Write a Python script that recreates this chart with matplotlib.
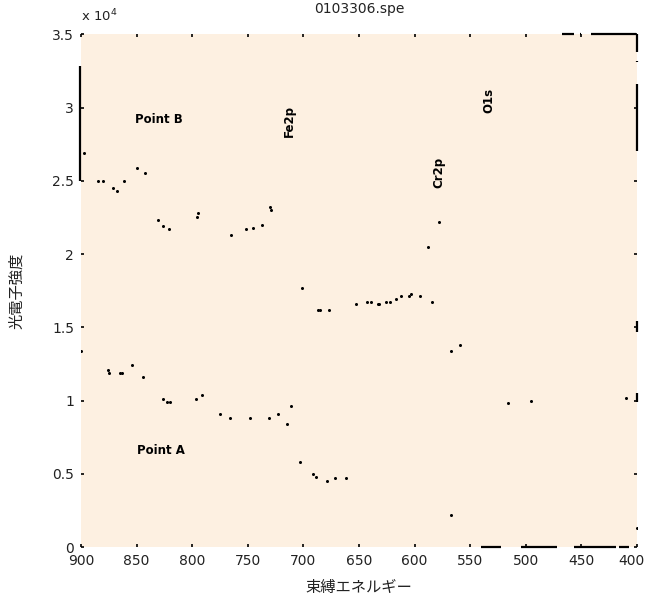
import numpy as np
import matplotlib
matplotlib.use("Agg")
import matplotlib.pyplot as plt
import matplotlib.transforms as mtransforms

plt.rcParams['font.family'] = ['DejaVu Sans', 'Noto Sans CJK JP']

# Point B (upper spectrum), binding energy / counts (x 1e4)
eb = [897, 885, 880, 871, 868, 861, 850, 842, 831, 826, 821, 796, 795, 765, 752,
      745, 737, 730, 729, 701, 687, 685, 677, 653, 643, 639, 633, 632, 626, 622,
      617, 612, 605, 603, 595, 588, 584, 578]
ib = [2.69, 2.50, 2.50, 2.45, 2.43, 2.50, 2.59, 2.55, 2.23, 2.19, 2.17, 2.25, 2.28,
      2.13, 2.17, 2.18, 2.20, 2.32, 2.30, 1.77, 1.62, 1.62, 1.62, 1.66, 1.67, 1.67,
      1.66, 1.66, 1.67, 1.67, 1.69, 1.71, 1.71, 1.73, 1.71, 2.05, 1.67, 2.22]

# Point A (lower spectrum)
ea = [900, 876, 875, 865, 863, 854, 844, 826, 823, 820, 797, 791, 775, 766, 748,
      731, 723, 715, 711, 703, 691, 689, 679, 672, 662, 567, 559, 567, 516, 495,
      410, 400]
ia = [1.34, 1.21, 1.19, 1.19, 1.19, 1.24, 1.16, 1.01, 0.99, 0.99, 1.01, 1.04, 0.91,
      0.88, 0.88, 0.88, 0.91, 0.84, 0.96, 0.58, 0.50, 0.48, 0.45, 0.47, 0.47, 1.34,
      1.38, 0.22, 0.98, 1.00, 1.02, 0.13]

# parts of the traces running along the frame (clipped)
bottom_segs = [(540, 522), (504, 472), (457, 419), (416, 407)]
top_segs = [(467, 457), (451, 450), (441, 401)]
right_segs = [(3.50, 3.38), (3.32, 3.31), (3.16, 2.70), (1.54, 1.47), (1.05, 0.99)]
left_segs = [(3.28, 2.50)]

labels = ['Point B', 'Point A']
label_pos = [(830, 2.92), (828, 0.66)]
peaks = ['Fe2p', 'Cr2p', 'O1s']
peak_pos = [(713, 2.91), (578, 2.56), (533, 3.05)]

xticks = [900, 850, 800, 750, 700, 650, 600, 550, 500, 450, 400]
yticks = [0, 0.5, 1, 1.5, 2, 2.5, 3, 3.5]

fig = plt.figure(figsize=(6.48, 5.99), dpi=100)
ax = fig.add_axes([0.125, 0.0868, 0.858, 0.856])
ax.set_facecolor('#fdf0e1')
for s in ax.spines.values():
    s.set_visible(False)

ax.plot(eb, ib, 'o', color='black', markersize=2.2, markeredgewidth=0)
ax.plot(ea, ia, 'o', color='black', markersize=2.2, markeredgewidth=0)

kw = dict(color='black', lw=1.6, clip_on=False, solid_capstyle='butt')
for a, b in bottom_segs:
    ax.plot([a, b], [0, 0], **kw)
for a, b in top_segs:
    ax.plot([a, b], [3.5, 3.5], **kw)
for a, b in right_segs:
    ax.plot([400, 400], [a, b], **kw)
for a, b in left_segs:
    ax.plot([900.5, 900.5], [a, b], **kw)

for t, (x, y) in zip(labels, label_pos):
    ax.text(x, y, t, ha='center', va='center', fontsize=8.5, fontweight='bold')
for t, (x, y) in zip(peaks, peak_pos):
    ax.text(x, y, t, ha='center', va='center', fontsize=8.5, fontweight='bold',
            rotation=90)

ax.set_xlim(900, 400)
ax.set_ylim(0, 3.5)
ax.set_xticks(xticks)
ax.set_yticks(yticks)
ax.set_yticklabels(['0', '0.5', '1', '1.5', '2', '2.5', '3', '3.5'])
ax.tick_params(direction='in', length=2, width=1.2, labelsize=10,
               top=True, right=True, pad=5, colors='black', labelcolor='#222222')
ax.tick_params(axis='x', pad=5)

# nudge the last x label so it stays inside the figure
last = ax.get_xticklabels()[-1]
last.set_transform(last.get_transform() +
                   mtransforms.ScaledTranslation(-6 / 100, 0, fig.dpi_scale_trans))

ax.text(0.0, 1.02, 'x 10$^{4}$', transform=ax.transAxes, ha='left', va='bottom',
        fontsize=9.5, color='#222222')
ax.set_title('0103306.spe', fontsize=10, pad=15, color='#222222')
ax.set_xlabel('束縛エネルギー', fontsize=11, labelpad=9, color='#222222')
ax.set_ylabel('光電子強度', fontsize=11, labelpad=20, color='#222222')

fig.savefig('out.png', dpi=100)
